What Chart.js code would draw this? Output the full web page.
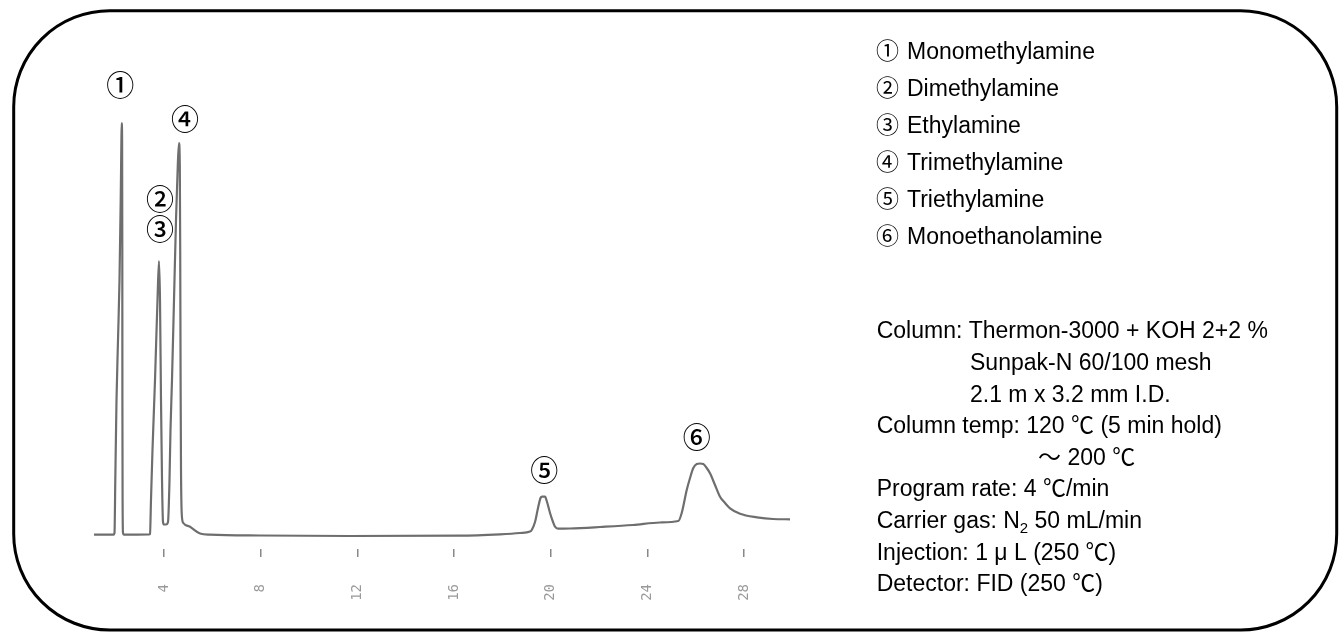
<!DOCTYPE html>
<html>
<head>
<meta charset="utf-8">
<script src="https://cdn.jsdelivr.net/npm/chart.js@4.4.1/dist/chart.umd.min.js"></script>
<style>
html, body { margin: 0; padding: 0; background: #fff; }
#wrap { position: relative; width: 1344px; height: 632px; }
</style>
</head>
<body>
<div id="wrap"><canvas id="cromatograma"></canvas></div>
<script>
const tiempos = [
    1.105, 1.912, 1.953, 1.986, 2.036, 2.098, 2.160, 2.210, 2.239, 2.251,
    2.268, 2.276, 2.280, 2.288, 2.305, 2.346, 3.381, 3.422, 3.463, 3.525,
    3.629, 3.732, 3.794, 3.836, 3.877, 3.919, 3.960, 4.001, 4.084, 4.167,
    4.229, 4.270, 4.332, 4.415, 4.498, 4.572, 4.622, 4.655, 4.672, 4.688,
    4.705, 4.738, 4.800, 5.077, 5.491, 5.905, 7.974, 11.698, 16.250, 17.905,
    18.732, 19.146, 19.216, 19.353, 19.477, 19.581, 19.643, 19.767, 19.850, 19.974,
    20.098, 20.181, 20.305, 20.801, 22.043, 23.408, 24.525, 25.283, 25.423, 25.630,
    25.767, 25.903, 26.044, 26.181, 26.317, 26.458, 26.594, 26.801, 27.008, 27.215,
    27.422, 27.836, 28.539, 29.201, 29.905
];
const senal = [
    2.86, 2.86, 3.2, 13.8, 29.8, 41.8, 53.8, 69.8, 81.8, 85.2,
    81.8, 59.8, 29.8, 9.8, 3.2, 2.86, 2.9, 3.0, 9.8, 19.8,
    33.8, 49.8, 57.6, 49.8, 29.8, 13.8, 5.4, 4.9, 4.9, 5.4,
    13.8, 23.8, 33.8, 49.8, 65.8, 76.8, 81.2, 76.8, 59.8, 33.8,
    15.8, 6.8, 5.2, 4.46, 3.1, 2.86, 2.7, 2.6, 2.66, 2.94,
    3.2, 3.5, 3.8, 5.4, 8.2, 10.2, 10.46, 10.46, 9.4, 7.2,
    5.4, 4.46, 4.06, 4.1, 4.4, 4.8, 5.3, 5.6, 7.2, 11.8,
    14.2, 16.2, 17.0, 17.1, 17.0, 16.2, 15.14, 12.8, 10.46, 9.2,
    8.14, 7.06, 6.34, 6.0, 5.94
];
const tickMinutos = [4, 8, 12, 16, 20, 24, 28];

// picos: número, nombre, y dónde va el número sobre el cromatograma
const numerosPico = ['①', '②', '③', '④', '⑤', '⑥'];
const compuestos = ['Monomethylamine', 'Dimethylamine', 'Ethylamine', 'Trimethylamine', 'Triethylamine', 'Monoethanolamine'];
const etiquetaTiempo = [2.19, 3.84, 3.84, 4.87, 19.74, 26.04];
const etiquetaAltura = [92.8, 70.0, 63.9, 85.9, 15.8, 22.3];

const condiciones = [
    'Column: Thermon-3000 + KOH 2+2 %',
    'Sunpak-N 60/100 mesh',
    '2.1 m x 3.2 mm I.D.',
    'Column temp: 120 ℃ (5 min hold)',
    '～ 200 ℃',
    'Program rate: 4 ℃/min',
    'Carrier gas: N₂ 50 mL/min',
    'Injection: 1 μ L (250 ℃)',
    'Detector: FID (250 ℃)'
];

const fuente = "'Liberation Sans', Arial, 'Noto Sans CJK JP', sans-serif";
const fuenteCirculo = "'Noto Sans CJK JP', 'DejaVu Sans', sans-serif";

const textos = {
    id: 'textos',
    beforeDraw(chart) {
        const ctx = chart.ctx;
        ctx.save();
        ctx.fillStyle = '#fff';
        ctx.fillRect(0, 0, chart.width, chart.height);
        ctx.restore();
    },
    afterDraw(chart) {
        const { ctx, scales: { x, y } } = chart;
        ctx.save();
        ctx.fillStyle = '#000';

        // números encima de los picos
        ctx.font = '500 28px ' + fuenteCirculo;
        ctx.textAlign = 'center';
        ctx.textBaseline = 'middle';
        numerosPico.forEach((n, i) => {
            ctx.fillText(n, x.getPixelForValue(etiquetaTiempo[i]), y.getPixelForValue(etiquetaAltura[i]));
        });

        // lista de compuestos
        ctx.textAlign = 'left';
        ctx.textBaseline = 'alphabetic';
        compuestos.forEach((c, i) => {
            const yy = 59.3 + 37 * i;
            ctx.font = '23px ' + fuenteCirculo;
            ctx.fillText(numerosPico[i], 876, yy);
            ctx.font = '23px ' + fuente;
            ctx.fillText(c, 907, yy);
        });

        // condiciones
        const sangria = [876.7, 970, 970, 876.7, 1038, 876.7, 876.7, 876.7, 876.7];
        condiciones.forEach((linea, i) => {
            const yy = 338.3 + 31.6 * i;
            ctx.font = '23px ' + fuente;
            if (linea.includes('₂')) {
                const partes = linea.split('₂');
                ctx.fillText(partes[0], sangria[i], yy);
                let xx = sangria[i] + ctx.measureText(partes[0]).width;
                ctx.font = '15px ' + fuente;
                ctx.fillText('2', xx, yy + 5);
                xx += ctx.measureText('2').width;
                ctx.font = '23px ' + fuente;
                ctx.fillText(partes[1], xx, yy);
            } else {
                ctx.fillText(linea, sangria[i], yy);
            }
        });

        // marco redondeado
        ctx.strokeStyle = '#000';
        ctx.lineWidth = 3;
        ctx.beginPath();
        ctx.roundRect(13.7, 10.7, 1323, 619.3, 96);
        ctx.stroke();
        ctx.restore();
    }
};

const ctx = document.getElementById('cromatograma').getContext('2d');

const cromatograma = new Chart(ctx, {
    type: 'line',
    data: {
        datasets: [{
            data: tiempos.map((t, i) => ({ x: t, y: senal[i] })),
            borderColor: '#6e6e6e',
            borderWidth: 2.2,
            pointRadius: 0,
            cubicInterpolationMode: 'monotone',
            fill: false
        }]
    },
    options: {
        responsive: true,
        maintainAspectRatio: false,
        animation: false,
        layout: {
            padding: { left: 67.3, right: 527.5, top: 49, bottom: 8 }
        },
        scales: {
            x: {
                type: 'linear',
                min: 0,
                max: 31,
                afterBuildTicks: (s) => { s.ticks = tickMinutos.map(v => ({ value: v })); },
                afterFit: (s) => { s.height = 75; },
                grid: {
                    drawOnChartArea: false,
                    drawTicks: true,
                    tickLength: 8,
                    color: '#888',
                    lineWidth: 1.5
                },
                border: { display: false },
                ticks: {
                    autoSkip: false,
                    minRotation: 90,
                    maxRotation: 90,
                    padding: 27,
                    color: '#999',
                    font: { family: 'DejaVu Sans Mono', size: 14 }
                }
            },
            y: {
                display: false,
                min: 0,
                max: 100
            }
        },
        plugins: {
            legend: { display: false },
            tooltip: { enabled: false }
        }
    },
    plugins: [textos]
});
</script>
</body>
</html>
